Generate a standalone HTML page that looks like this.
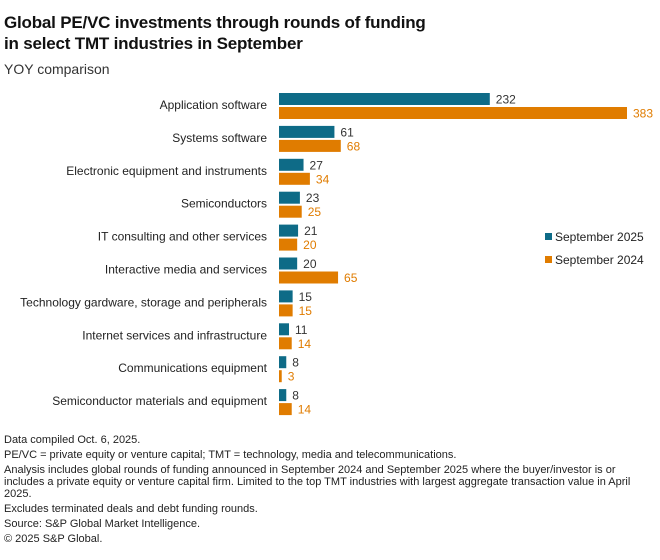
<!DOCTYPE html>
<html><head><meta charset="utf-8"><style>
body{margin:0;background:#fff;font-family:"Liberation Sans",sans-serif;color:#222;}
#wrap{position:relative;width:660px;height:560px;overflow:hidden;}
.t{position:absolute;left:4px;font-weight:bold;font-size:17px;letter-spacing:-0.2px;line-height:21px;color:#111;}
.foot{position:absolute;left:4px;font-size:11px;line-height:12px;color:#222;width:628px;}
.foot p{margin:0 0 3px 0;}
</style></head><body><div id="wrap">
<div class="t" style="top:12px">Global PE/VC investments through rounds of funding<br>in select TMT industries in September</div>
<div style="position:absolute;left:4px;top:61px;font-size:14px;color:#333">YOY comparison</div>
<svg id="chart" width="660" height="430" style="position:absolute;left:0;top:0"></svg>
<div class="foot" style="top:434px"><p>Data compiled Oct. 6, 2025.</p><p>PE/VC = private equity or venture capital; TMT = technology, media and telecommunications.</p><p>Analysis includes global rounds of funding announced in September 2024 and September 2025 where the buyer/investor is or includes a private equity or venture capital firm. Limited to the top TMT industries with largest aggregate transaction value in April 2025.</p><p>Excludes terminated deals and debt funding rounds.</p><p>Source: S&amp;P Global Market Intelligence.</p><p>© 2025 S&amp;P Global.</p></div>
</div>
<script>
const categories=["Application software","Systems software","Electronic equipment and instruments","Semiconductors","IT consulting and other services","Interactive media and services","Technology gardware, storage and peripherals","Internet services and infrastructure","Communications equipment","Semiconductor materials and equipment"];
const sep2025=[232,61,27,23,21,20,15,11,8,8];
const sep2024=[383,68,34,25,20,65,15,14,3,14];
const seriesNames=["September 2025","September 2024"];
const colors=["#0e6b87","#e07c00"];
const svg=document.getElementById('chart');
const NS='http://www.w3.org/2000/svg';
const x0=279,scale=348/383;
const xs=v=>v*scale;
const rowY=i=>105+i*32.9;
function mk(t,a,txt){const e=document.createElementNS(NS,t);for(const k in a)e.setAttribute(k,a[k]);if(txt!=null)e.textContent=txt;svg.appendChild(e);return e;}
categories.forEach((c,i)=>{
  const y=rowY(i);
  const l=mk('text',{x:267,y:y+4,'text-anchor':'end','font-size':12,fill:'#222','font-family':'Liberation Sans'},c);
  
  
  [sep2025[i],sep2024[i]].forEach((v,s)=>{
    const by=s===0?y-12:y+2;
    const r=mk('rect',{x:x0,y:by,width:xs(v),height:12,fill:colors[s]});
    
    
    const t=mk('text',{x:x0+xs(v)+6,y:by+10.5,'font-size':12,fill:s===0?'#333':colors[1],'font-family':'Liberation Sans'},v);
    
    
  });
});
seriesNames.forEach((n,s)=>{
  const y=241+s*23;
  const r=mk('rect',{x:545,y:y-8,width:7,height:7,fill:colors[s]});
  
  
  const t=mk('text',{x:555,y:y,'font-size':12,fill:'#222','font-family':'Liberation Sans'},n);
  
  
});
</script></body></html>
